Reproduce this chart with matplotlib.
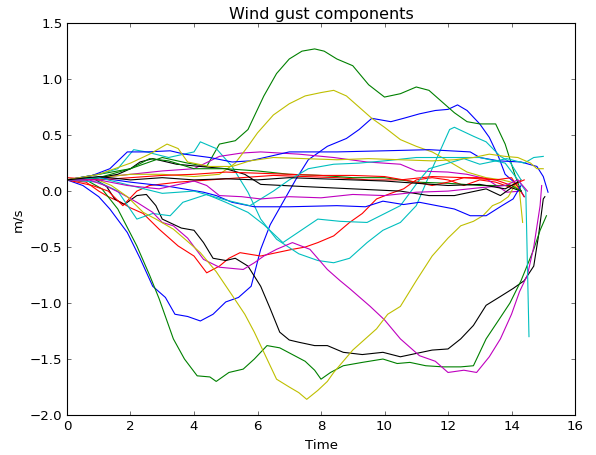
import matplotlib
matplotlib.use("Agg")
import matplotlib.pyplot as plt

plt.style.use('classic')

# gust traces (time in s, value in m/s)
b_vee_t = [0, 0.5, 1.0, 1.35, 1.9, 2.3, 2.7, 3.1, 3.4, 3.8, 4.2, 4.6, 5.0, 5.4, 5.8, 6.1, 6.4, 6.8, 7.2, 7.6, 8.2, 8.8, 9.2, 9.6, 10.2, 10.6, 11.1, 11.6, 12.0, 12.3, 12.6, 13.0, 13.3, 13.6, 13.8, 14.0, 14.2, 14.4]
b_vee_v = [0.1, 0.05, -0.05, -0.16, -0.37, -0.6, -0.85, -0.95, -1.1, -1.12, -1.16, -1.1, -0.99, -0.95, -0.85, -0.52, -0.3, -0.1, 0.1, 0.28, 0.4, 0.47, 0.55, 0.65, 0.62, 0.65, 0.69, 0.72, 0.73, 0.77, 0.72, 0.6, 0.48, 0.3, 0.15, 0.1, 0.05, -0.05]

g_up_t = [0, 1, 2, 3, 3.8, 4.4, 4.8, 5.3, 5.7, 6.2, 6.6, 7.0, 7.4, 7.8, 8.1, 8.5, 9.0, 9.5, 10.0, 10.5, 11.0, 11.4, 11.8, 12.2, 12.6, 13.0, 13.5, 13.8, 14.1, 14.3]
g_up_v = [0.1, 0.15, 0.2, 0.3, 0.25, 0.22, 0.42, 0.45, 0.55, 0.85, 1.05, 1.18, 1.25, 1.27, 1.25, 1.18, 1.12, 0.95, 0.84, 0.87, 0.93, 0.9, 0.8, 0.7, 0.62, 0.6, 0.6, 0.42, 0.15, 0.0]

r_dip_t = [0, 0.6, 1.0, 1.3, 1.7, 2.0, 2.4, 2.9, 3.5, 4.0, 4.4, 4.8, 5.1, 5.45, 6.1, 6.6, 7.1, 7.5, 7.9, 8.4, 8.9, 9.3, 9.75, 10.2, 10.6, 11.0, 11.5, 12.0, 12.5, 13.0, 13.5, 14.0, 14.3]
r_dip_v = [0.1, 0.08, 0.0, -0.05, -0.1, -0.15, -0.2, -0.34, -0.49, -0.58, -0.73, -0.67, -0.6, -0.55, -0.58, -0.55, -0.52, -0.5, -0.46, -0.4, -0.28, -0.2, -0.07, -0.02, 0.02, 0.1, 0.12, 0.1, 0.05, 0.1, 0.08, 0.03, 0.1]

c_vee_t = [0, 1.0, 1.6, 2.1, 2.5, 3.2, 4.0, 4.2, 4.7, 5.2, 5.7, 6.1, 6.6, 7.3, 7.9, 8.4, 8.9, 9.45, 9.95, 10.5, 11.0, 11.5, 12.05, 12.2, 12.8, 13.2, 13.65, 13.95, 14.3]
c_vee_v = [0.1, 0.15, 0.2, 0.37, 0.35, 0.3, 0.35, 0.44, 0.38, 0.22, -0.01, -0.25, -0.43, -0.56, -0.62, -0.64, -0.6, -0.46, -0.35, -0.28, -0.13, 0.2, 0.55, 0.57, 0.49, 0.44, 0.31, 0.26, 0.1]

m_hi_t = [0, 1, 2, 3, 4, 4.8, 5.5, 6.1, 7.3, 8.4, 9.45, 10.5, 11.0, 12.0, 12.6, 13.2, 13.85, 14.3]
m_hi_v = [0.1, 0.12, 0.15, 0.18, 0.2, 0.31, 0.34, 0.35, 0.33, 0.3, 0.26, 0.24, 0.18, 0.17, 0.15, 0.11, -0.01, 0.0]

y_up_t = [0, 1, 2, 3, 4, 4.8, 5.3, 5.7, 6.0, 6.5, 7.0, 7.5, 8.0, 8.4, 8.8, 9.2, 9.6, 10.0, 10.5, 11.0, 11.5, 12.0, 12.6, 13.2, 13.7, 14.0, 14.2]
y_up_v = [0.1, 0.12, 0.15, 0.15, 0.13, 0.15, 0.25, 0.4, 0.52, 0.68, 0.78, 0.85, 0.88, 0.9, 0.85, 0.75, 0.65, 0.57, 0.46, 0.4, 0.35, 0.27, 0.17, 0.12, 0.1, 0.08, 0.05]

k_big_t = [0, 0.8, 1.25, 1.5, 1.8, 2.2, 2.5, 2.8, 3.0, 3.6, 4.0, 4.3, 4.6, 5.0, 5.3, 5.7, 6.1, 6.4, 6.7, 7.0, 7.3, 7.8, 8.2, 8.7, 9.3, 9.95, 10.5, 11.0, 11.5, 12.0, 12.4, 12.8, 13.2, 13.6, 14.05, 14.4, 14.7, 14.85, 15.0, 15.05]
k_big_v = [0.1, 0.12, 0.04, -0.07, -0.12, -0.04, -0.03, -0.13, -0.25, -0.33, -0.35, -0.46, -0.6, -0.62, -0.6, -0.67, -0.85, -1.05, -1.26, -1.33, -1.35, -1.38, -1.38, -1.44, -1.46, -1.44, -1.48, -1.45, -1.42, -1.41, -1.32, -1.2, -1.02, -0.95, -0.87, -0.8, -0.67, -0.4, -0.07, -0.05]

b_hi_t = [0, 0.8, 1.35, 1.9, 2.5, 3.25, 3.7, 4.5, 5.2, 5.76, 7.0, 8.5, 10.0, 11.4, 12.7, 13.0, 13.6, 14.3, 14.8, 15.0, 15.15]
b_hi_v = [0.1, 0.14, 0.2, 0.35, 0.35, 0.36, 0.33, 0.3, 0.26, 0.27, 0.35, 0.35, 0.36, 0.37, 0.35, 0.3, 0.27, 0.26, 0.22, 0.13, -0.01]

g_low_t = [0, 0.6, 1.1, 1.6, 2.2, 2.6, 2.9, 3.35, 3.7, 4.1, 4.5, 4.7, 5.1, 5.55, 5.9, 6.3, 6.7, 7.1, 7.5, 7.8, 8.0, 8.3, 8.7, 9.3, 9.95, 10.4, 10.8, 11.3, 11.85, 12.4, 12.8, 13.2, 13.6, 13.95, 14.3, 14.7, 14.9, 15.1]
g_low_v = [0.1, 0.1, 0.02, -0.16, -0.49, -0.75, -0.96, -1.32, -1.5, -1.65, -1.66, -1.7, -1.62, -1.59, -1.5, -1.38, -1.4, -1.46, -1.52, -1.6, -1.68, -1.62, -1.56, -1.53, -1.5, -1.54, -1.53, -1.56, -1.57, -1.57, -1.56, -1.32, -1.15, -1.0, -0.8, -0.52, -0.35, -0.22]

r_mid_t = [0, 0.8, 1.3, 1.76, 2.2, 2.6, 3.5, 4.5, 5.5, 6.5, 7.5, 8.5, 9.5, 10.5, 11.5, 12.5, 13.5, 14.0, 14.4]
r_mid_v = [0.1, 0.05, 0.0, -0.13, 0.0, 0.05, 0.08, 0.1, 0.12, 0.14, 0.13, 0.12, 0.1, 0.1, 0.13, 0.12, 0.1, 0.12, -0.05]

c_mid_t = [0, 1.0, 1.6, 2.2, 2.7, 3.25, 3.65, 4.4, 5.0, 5.7, 6.2, 6.8, 7.9, 8.6, 9.45, 10.5, 11.1, 11.4, 12.5, 13.0, 13.85, 14.4, 14.7, 15.0]
c_mid_v = [0.1, 0.08, 0.0, -0.25, -0.2, -0.22, -0.1, -0.03, -0.1, -0.19, -0.3, -0.46, -0.25, -0.27, -0.28, -0.13, 0.1, 0.2, 0.29, 0.24, 0.29, 0.25, 0.3, 0.31]

m_low_t = [0, 0.7, 1.2, 1.7, 2.2, 2.7, 3.0, 3.35, 3.8, 4.3, 4.8, 5.55, 5.9, 6.2, 6.6, 7.1, 7.65, 8.2, 8.6, 8.9, 9.55, 10.0, 10.5, 11.1, 11.6, 12.0, 12.5, 12.9, 13.3, 13.65, 14.0, 14.25, 14.5, 14.7, 14.9, 14.95]
m_low_v = [0.1, 0.1, 0.05, -0.02, -0.1, -0.19, -0.28, -0.31, -0.42, -0.61, -0.68, -0.7, -0.64, -0.58, -0.52, -0.46, -0.52, -0.7, -0.8, -0.87, -1.03, -1.15, -1.32, -1.47, -1.52, -1.62, -1.6, -1.62, -1.48, -1.32, -1.1, -0.9, -0.75, -0.5, -0.13, 0.05]

y_low_t = [0, 0.8, 1.4, 1.9, 2.4, 2.8, 3.35, 3.8, 4.2, 4.7, 5.2, 5.6, 5.9, 6.3, 6.6, 7.0, 7.3, 7.55, 7.9, 8.2, 8.4, 9.0, 9.75, 10.1, 10.5, 11.0, 11.5, 12.0, 12.4, 12.8, 13.1, 13.4, 13.65, 13.9, 14.1, 14.25, 14.35]
y_low_v = [0.1, 0.12, 0.05, -0.05, -0.19, -0.25, -0.34, -0.45, -0.55, -0.72, -0.93, -1.1, -1.26, -1.5, -1.68, -1.75, -1.8, -1.86, -1.78, -1.7, -1.62, -1.42, -1.23, -1.1, -1.03, -0.8, -0.58, -0.42, -0.31, -0.27, -0.22, -0.13, -0.1, -0.05, 0.05, 0.0, -0.28]

k_top_t = [0, 1.0, 1.6, 2.0, 2.3, 2.7, 3.45, 4.2, 5.0, 5.6, 6.1, 7.5, 9.0, 10.5, 11.4, 12.2, 13.2, 13.65, 14.0, 14.3]
k_top_v = [0.1, 0.12, 0.15, 0.2, 0.26, 0.29, 0.24, 0.22, 0.2, 0.15, 0.06, 0.04, 0.02, 0.0, -0.04, -0.04, 0.02, -0.04, 0.03, 0.0]

b_low_t = [0, 1.0, 2.0, 3.25, 4.3, 4.7, 5.2, 5.9, 7.0, 8.5, 9.4, 9.95, 10.6, 11.1, 12.2, 12.7, 13.2, 13.7, 14.05, 14.3]
b_low_v = [0.1, 0.12, 0.08, 0.04, -0.01, -0.04, -0.1, -0.14, -0.14, -0.13, -0.14, -0.09, -0.12, -0.1, -0.16, -0.22, -0.22, -0.13, -0.07, 0.05]

g_mid_t = [0, 1, 2, 2.6, 3.2, 4.0, 5.0, 6.0, 7.0, 8.0, 9.0, 10.0, 11.0, 12.0, 13.0, 14.0, 14.3]
g_mid_v = [0.1, 0.12, 0.2, 0.29, 0.27, 0.2, 0.2, 0.18, 0.15, 0.14, 0.12, 0.12, 0.08, 0.07, 0.05, 0.05, 0.0]

r_hi_t = [0, 1, 2, 3, 4, 5, 6, 7, 8, 9, 10, 11, 11.5, 12.0, 12.5, 13.0, 13.5, 14.0, 14.4]
r_hi_v = [0.12, 0.1, 0.12, 0.14, 0.15, 0.17, 0.16, 0.15, 0.14, 0.14, 0.13, 0.08, 0.05, 0.08, 0.12, 0.12, 0.1, 0.05, 0.1]

c_flat_t = [0, 1, 2, 3, 4, 5, 5.76, 6.5, 7.0, 7.6, 8.4, 9.2, 10.0, 11.0, 12.0, 13.0, 13.8, 14.2, 14.45, 14.55]
c_flat_v = [0.1, 0.12, 0.05, -0.02, 0.0, -0.08, -0.13, 0.0, 0.1, 0.2, 0.24, 0.25, 0.27, 0.3, 0.3, 0.3, 0.25, 0.1, 0.0, -1.3]

m_flat_t = [0, 1, 1.9, 2.9, 4.0, 4.4, 4.8, 5.5, 6.1, 7.0, 8.0, 9.0, 10.0, 11.0, 12.0, 13.0, 13.8, 14.2, 14.5]
m_flat_v = [0.1, 0.1, 0.05, 0.02, 0.09, 0.05, -0.04, -0.05, -0.07, -0.05, -0.06, -0.03, -0.04, -0.01, 0.0, 0.03, 0.05, 0.1, 0.0]

y_flat_t = [0, 1, 2, 2.6, 3.15, 3.5, 3.8, 4.5, 5.2, 5.76, 6.5, 7.5, 8.5, 9.5, 10.5, 11.5, 12.2, 12.8, 13.3, 13.8, 14.2, 14.6, 14.8, 15.0]
y_flat_v = [0.1, 0.15, 0.25, 0.33, 0.42, 0.38, 0.26, 0.22, 0.22, 0.27, 0.3, 0.29, 0.28, 0.29, 0.28, 0.27, 0.28, 0.3, 0.33, 0.31, 0.3, 0.25, 0.2, 0.2]

k_flat_t = [0, 1, 2, 3, 4, 5, 6, 7, 8, 9, 10, 11, 12, 13, 13.8, 14.2]
k_flat_v = [0.1, 0.13, 0.1, 0.12, 0.1, 0.11, 0.1, 0.12, 0.11, 0.1, 0.09, 0.07, 0.05, 0.06, 0.02, 0.08]

traces = [
    (b_vee_t, b_vee_v, 'b'), (g_up_t, g_up_v, 'g'), (r_dip_t, r_dip_v, 'r'),
    (c_vee_t, c_vee_v, 'c'), (m_hi_t, m_hi_v, 'm'), (y_up_t, y_up_v, 'y'),
    (k_big_t, k_big_v, 'k'),
    (b_hi_t, b_hi_v, 'b'), (g_low_t, g_low_v, 'g'), (r_mid_t, r_mid_v, 'r'),
    (c_mid_t, c_mid_v, 'c'), (m_low_t, m_low_v, 'm'), (y_low_t, y_low_v, 'y'),
    (k_top_t, k_top_v, 'k'),
    (b_low_t, b_low_v, 'b'), (g_mid_t, g_mid_v, 'g'), (r_hi_t, r_hi_v, 'r'),
    (c_flat_t, c_flat_v, 'c'), (m_flat_t, m_flat_v, 'm'), (y_flat_t, y_flat_v, 'y'),
    (k_flat_t, k_flat_v, 'k'),
]

fig = plt.figure(figsize=(5.96 / 0.8, 4.56 / 0.8), dpi=80, facecolor='white')
ax = fig.add_subplot(111)
for t, v, col in traces:
    ax.plot(t, v, color=col, linewidth=1.0)

ax.set_xlim(0, 16)
ax.set_ylim(-2.0, 1.5)
ax.set_title('Wind gust components')
ax.set_xlabel('Time')
ax.set_ylabel('m/s')

fig.subplots_adjust(left=0.1124, right=0.9648, top=0.947, bottom=0.0877)
fig.savefig('out.png', dpi=80, facecolor='white')
